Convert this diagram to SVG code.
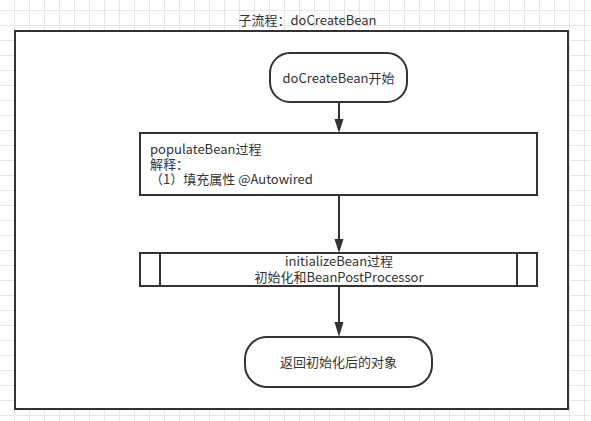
<svg xmlns="http://www.w3.org/2000/svg" width="591" height="421" viewBox="0 0 591 421">
  <defs>
    <pattern id="grid" patternUnits="userSpaceOnUse" x="14" y="10" width="15" height="15">
      <path d="M0 0.5H15M0.5 0V15" fill="none" stroke="#e6e6e6" stroke-width="1"/>
    </pattern>
    <style>
      .box { fill: #fff; stroke: #333; stroke-width: 2; }
      .t { font-family: "Noto Sans CJK SC", "Noto Sans", sans-serif; font-size: 13px; fill: #333; }
      .c { text-anchor: middle; }
      .edge { stroke: #333; stroke-width: 2; fill: none; }
      .head { fill: #333; }
    </style>
  </defs>
  <rect width="591" height="421" fill="#fff"/>
  <rect width="591" height="421" fill="url(#grid)"/>

  <g id="frame">
    <rect class="box" x="15" y="31" width="553" height="378"/>
    <text class="t c" x="307.5" y="25">子流程：doCreateBean</text>
  </g>

  <g id="connectors">
    <line class="edge" x1="339" y1="102" x2="339" y2="120"/>
    <path class="head" d="M334.5 119L343.5 119L339 133Z"/>
    <line class="edge" x1="339" y1="195" x2="339" y2="240"/>
    <path class="head" d="M334.5 239L343.5 239L339 253Z"/>
    <line class="edge" x1="339" y1="286" x2="339" y2="323"/>
    <path class="head" d="M334.5 322L343.5 322L339 337Z"/>
  </g>

  <g id="start">
    <rect class="box" x="270" y="53" width="137" height="49" rx="20" ry="20"/>
    <text class="t c" x="338.5" y="82.5">doCreateBean开始</text>
  </g>

  <g id="populate">
    <rect class="box" x="140" y="133" width="397" height="62"/>
    <text class="t" x="150" y="153.5">populateBean过程<tspan x="150" dy="15">解释：</tspan><tspan x="150" dy="15">（1）填充属性 @Autowired</tspan></text>
  </g>

  <g id="initialize">
    <rect class="box" x="140" y="253" width="397" height="33"/>
    <line class="edge" x1="160" y1="253" x2="160" y2="286"/>
    <line class="edge" x1="517" y1="253" x2="517" y2="286"/>
    <text class="t c" x="339" y="266">initializeBean过程<tspan x="339" dy="15.5">初始化和BeanPostProcessor</tspan></text>
  </g>

  <g id="end">
    <rect class="box" x="245" y="337" width="187" height="50" rx="22" ry="22"/>
    <text class="t c" x="338.5" y="366.5">返回初始化后的对象</text>
  </g>
</svg>
